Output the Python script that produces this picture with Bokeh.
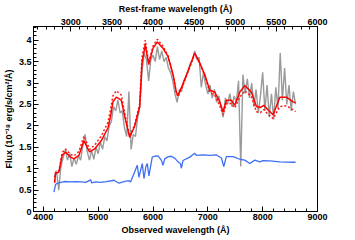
from bokeh.plotting import figure
from bokeh.models import Range1d, LinearAxis, SingleIntervalTicker, CustomJSTickFormatter
from bokeh.embed import file_html
from bokeh.resources import INLINE

# ---------------- data ----------------
obs_wave = [4200 + 40 * i for i in range(111)]
obs_flux = [0.80, 0.95, 0.50, 1.05, 1.25, 1.45, 1.20, 1.35, 1.05, 1.25,
            1.10, 1.30, 1.20, 1.55, 1.80, 1.40, 1.20, 1.42, 1.22, 1.50,
            1.35, 1.62, 1.45, 1.75, 1.65, 2.00, 2.10, 2.45, 2.35, 2.60,
            2.30, 2.35, 1.95, 1.75, 2.80, 1.45, 1.80, 1.75, 2.20, 2.45,
            3.30, 3.70, 3.55, 3.05, 3.55, 3.65, 3.50, 3.85, 3.55, 3.75,
            3.50, 3.60, 3.35, 3.25, 3.05, 2.75, 2.55, 2.85, 2.80, 3.05,
            3.15, 3.30, 3.45, 3.55, 3.75, 3.55, 3.60, 2.90, 3.25, 2.95,
            2.75, 2.95, 2.65, 2.85, 2.55, 2.70, 2.45, 2.20, 2.65, 2.50,
            2.75, 2.45, 2.70, 2.55, 3.05, 1.05, 3.20, 2.75, 3.10, 2.65,
            3.00, 2.45, 2.85, 2.30, 2.70, 3.25, 2.35, 2.95, 2.20, 2.75,
            2.15, 2.90, 2.40, 3.70, 2.60, 3.35, 2.50, 2.95, 2.35, 2.80,
            2.50]

model_wave = [4205, 4220, 4241, 4283, 4343, 4405, 4497, 4557, 4648, 4740,
              4843, 4935, 5055, 5178, 5225, 5269, 5330, 5421, 5483, 5574,
              5665, 5757, 5799, 5859, 5921, 5999, 6078, 6182, 6273, 6365,
              6425, 6456, 6547, 6639, 6761, 6852, 6943, 7035, 7126, 7217,
              7278, 7338, 7429, 7491, 7583, 7674, 7794, 7886, 7959, 8021,
              8100, 8191, 8313, 8433, 8556, 8600]
model_a = [0.67, 0.88, 0.90, 0.92, 1.31, 1.39, 1.27, 1.23, 1.31, 1.65,
           1.39, 1.46, 1.65, 1.95, 2.22, 2.56, 2.67, 2.60, 2.22, 1.73,
           1.99, 2.45, 3.47, 3.89, 3.43, 3.81, 3.96, 3.81, 3.62, 3.20,
           2.79, 2.71, 2.98, 3.28, 3.70, 3.47, 3.20, 2.83, 2.79, 2.56,
           2.33, 2.60, 2.60, 2.48, 2.79, 2.94, 2.79, 2.45, 2.43, 2.48,
           2.37, 2.26, 2.67, 2.67, 2.56, 2.54]
model_b = [0.70, 0.91, 0.93, 0.95, 1.38, 1.46, 1.33, 1.30, 1.40, 1.76,
           1.45, 1.55, 1.76, 2.08, 2.38, 2.70, 2.82, 2.72, 2.30, 1.76,
           2.02, 2.52, 3.60, 4.00, 3.48, 3.86, 4.02, 3.86, 3.64, 3.20,
           2.76, 2.68, 2.95, 3.27, 3.68, 3.45, 3.18, 2.78, 2.72, 2.47,
           2.26, 2.52, 2.52, 2.42, 2.67, 2.82, 2.68, 2.33, 2.31, 2.38,
           2.27, 2.17, 2.45, 2.47, 2.37, 2.33]

blue_wave = [4192, 4223, 4250, 4283, 4374, 4500, 4600, 4700, 4771, 4862,
             4880, 4950, 5044, 5150, 5287, 5379, 5470, 5561, 5590, 5653,
             5713, 5743, 5804, 5835, 5870, 5895, 5925, 5986, 6030, 6091,
             6152, 6182, 6213, 6280, 6333, 6400, 6456, 6500, 6516, 6547,
             6670, 6761, 6791, 6913, 7035, 7156, 7248, 7290, 7338, 7460,
             7583, 7674, 7765, 7856, 7947, 8008, 8130, 8313, 8556, 8600]
blue_flux = [0.45, 0.63, 0.66, 0.67, 0.70, 0.69, 0.70, 0.69, 0.68, 0.74,
             0.67, 0.69, 0.68, 0.70, 0.73, 0.66, 0.70, 0.72, 0.69, 0.89,
             1.08, 0.80, 1.12, 0.77, 1.05, 1.12, 0.83, 1.27, 1.29, 1.30,
             1.20, 1.08, 1.23, 1.28, 1.29, 1.24, 1.16, 1.12, 1.01, 1.19,
             1.27, 1.36, 1.31, 1.32, 1.31, 1.32, 1.25, 1.05, 1.28, 1.28,
             1.22, 1.20, 1.12, 1.20, 1.16, 1.19, 1.18, 1.16, 1.15, 1.15]

redshift = 0.5
x_min, x_max = 3820, 9000
y_min, y_max = 0, 4.32

FONT = "Liberation Sans"

p = figure(frame_width=284, frame_height=185, output_backend="svg",
           toolbar_location=None, x_range=Range1d(x_min, x_max),
           y_range=Range1d(y_min, y_max),
           min_border_left=0, min_border_right=16, min_border_top=0, min_border_bottom=0)
p.extra_x_ranges = {"rest": Range1d(x_min / (1 + redshift), x_max / (1 + redshift))}

p.xgrid.visible = False
p.ygrid.visible = False
p.outline_line_color = "black"
p.outline_line_width = 1
p.background_fill_color = "white"
p.border_fill_color = "white"

p.line(obs_wave, obs_flux, line_color="#9a9a9a", line_width=1.4)
p.line(blue_wave, blue_flux, line_color="#3f6ff5", line_width=1.3)
p.line(model_wave, model_b, line_color="#ff1a1a", line_width=1.5, line_dash="2 2")
p.line(model_wave, model_a, line_color="#ff0000", line_width=1.5)

def style(ax):
    ax.axis_label_text_font = FONT
    ax.axis_label_text_font_style = "bold"
    ax.axis_label_text_font_size = "9px"
    ax.axis_label_text_color = "black"
    ax.major_label_text_font = FONT
    ax.major_label_text_font_style = "bold"
    ax.major_label_text_font_size = "9px"
    ax.major_label_text_color = "black"
    ax.major_tick_in = 5
    ax.major_tick_out = 0
    ax.minor_tick_in = 3
    ax.minor_tick_out = 0
    ax.axis_line_color = "black"
    ax.major_tick_line_color = "black"
    ax.minor_tick_line_color = "black"
    ax.major_label_standoff = 2
    ax.axis_label_standoff = 2

xa = p.xaxis[0]
xa.ticker = SingleIntervalTicker(interval=1000, num_minor_ticks=5)
xa.axis_label = "Observed wavelength (Å)"
style(xa)

ya = p.yaxis[0]
ya.ticker = SingleIntervalTicker(interval=0.5, num_minor_ticks=5)
ya.formatter = CustomJSTickFormatter(code="return Number(tick.toFixed(2)).toString();")
ya.axis_label = "Flux (10⁻¹⁸ erg/s/cm²/Å)"
style(ya)

top = LinearAxis(x_range_name="rest", axis_label="Rest-frame wavelength (Å)",
                 ticker=SingleIntervalTicker(interval=500, num_minor_ticks=5))
style(top)
p.add_layout(top, "above")

open("out.html", "w").write(file_html(p, INLINE))
